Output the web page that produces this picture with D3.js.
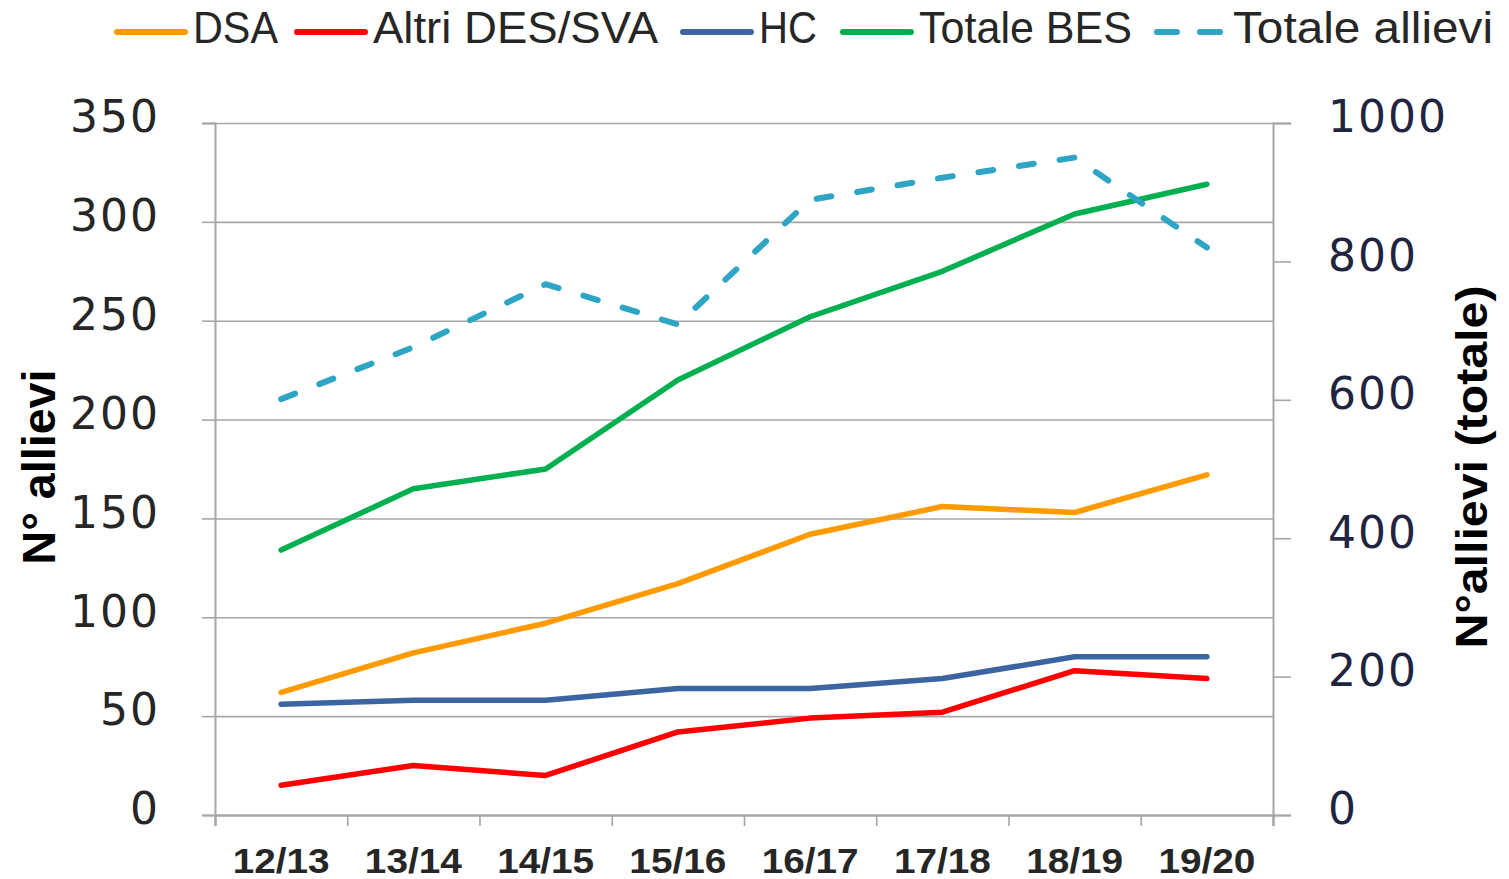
<!DOCTYPE html>
<html>
<head>
<meta charset="utf-8">
<script src="https://cdn.jsdelivr.net/npm/d3@7"></script>
<style>
  html, body { margin: 0; padding: 0; background: #fff; }
  svg { display: block; }
</style>
</head>
<body>
<div id="chart"></div>
<script>
// school years on the x axis
const years = ["12/13", "13/14", "14/15", "15/16", "16/17", "17/18", "18/19", "19/20"];

// left axis series (N° allievi)
const dsa   = [62, 82, 97, 117, 142, 156, 153, 172];
const altri = [15, 25, 20, 42, 49, 52, 73, 69];
const hc    = [56, 58, 58, 64, 64, 69, 80, 80];
const bes   = [134, 165, 175, 220, 252, 275, 304, 319];

// right axis series (totale)
const totAllievi = [601, 676, 767, 709, 889, 921, 950, 820];

const leftTicks  = [0, 50, 100, 150, 200, 250, 300, 350];
const rightTicks = [0, 200, 400, 600, 800, 1000];

const seriesNames = ["DSA", "Altri DES/SVA", "HC", "Totale BES", "Totale allievi"];

// layout: legend item line starts and text widths
const legendLineX = [117, 297, 683, 843, 1157];
const legendTextW = [85, 285, 58, 213, 260];

const W = 1509, H = 879;
const margin = {top: 123, right: 236, bottom: 64, left: 215};
const iw = W - margin.left - margin.right;
const ih = H - margin.top - margin.bottom;

const svg = d3.select("#chart").append("svg")
  .attr("width", W)
  .attr("height", H);

const g = svg.append("g").attr("transform", `translate(${margin.left},${margin.top})`);

const x = d3.scaleBand().domain(years).range([0, iw]);
const xTick = d3.scaleLinear().domain([0, years.length]).range([0, iw]);
const yL = d3.scaleLinear().domain([0, 350]).range([ih, 0]);
const yR = d3.scaleLinear().domain([0, 1000]).range([ih, 0]);

const gridCol = "#a6a6a6";

// gridlines
g.append("g")
  .call(d3.axisLeft(yL).tickValues(leftTicks.slice(1)).tickSize(-iw).tickFormat(""))
  .call(s => s.select(".domain").remove())
  .selectAll("line").attr("stroke", gridCol).attr("stroke-width", 1.6);

// left axis
const leftAx = g.append("g")
  .call(d3.axisLeft(yL).tickValues(leftTicks).tickSize(13).tickPadding(42).tickFormat(d3.format("d")));
leftAx.select(".domain").attr("stroke", gridCol).attr("stroke-width", 2);
leftAx.selectAll("line").attr("stroke", gridCol).attr("stroke-width", 1.6);
leftAx.selectAll("text")
  .attr("dy", "0.2em")
  .style("font-family", "'DejaVu Sans', Verdana, sans-serif")
  .style("font-size", "44px")
  .style("letter-spacing", "2px")
  .attr("fill", "#262626");

// right axis
const rightAx = g.append("g")
  .attr("transform", `translate(${iw},0)`)
  .call(d3.axisRight(yR).tickValues(rightTicks).tickSize(18).tickPadding(37).tickFormat(d3.format("d")));
rightAx.select(".domain").attr("stroke", gridCol).attr("stroke-width", 2);
rightAx.selectAll("line").attr("stroke", gridCol).attr("stroke-width", 1.6);
rightAx.selectAll("text")
  .attr("dy", "0.2em")
  .style("font-family", "'DejaVu Sans', Verdana, sans-serif")
  .style("font-size", "44px")
  .style("letter-spacing", "2px")
  .attr("fill", "#1f2540");

// bottom axis: tick marks between categories
const botAx = g.append("g")
  .attr("transform", `translate(0,${ih})`)
  .call(d3.axisBottom(xTick).tickValues(d3.range(years.length + 1)).tickSize(11).tickFormat(""));
botAx.select(".domain").attr("stroke", gridCol).attr("stroke-width", 2.4);
botAx.selectAll("line").attr("stroke", gridCol).attr("stroke-width", 1.6);

// bottom labels at band centres
const labAx = g.append("g")
  .attr("transform", `translate(0,${ih})`)
  .call(d3.axisBottom(x).tickSize(0).tickPadding(33));
labAx.select(".domain").remove();
labAx.selectAll("text")
  .attr("dy", "0.7em")
  .style("font-family", "'Liberation Sans', Arial, sans-serif")
  .style("font-weight", "bold")
  .style("font-size", "35px")
  .attr("textLength", 97)
  .attr("lengthAdjust", "spacingAndGlyphs")
  .attr("fill", "#262626");

// series
const colors = ["#ff9a00", "#ff0000", "#3c64a0", "#00b050", "#2fa5c5"];
const leftSeries = [dsa, altri, hc, bes];

const lineL = d3.line().x((d, i) => x(years[i]) + x.bandwidth() / 2).y(d => yL(d));
const lineR = d3.line().x((d, i) => x(years[i]) + x.bandwidth() / 2).y(d => yR(d));

leftSeries.forEach((s, k) => {
  g.append("path")
    .datum(s)
    .attr("d", lineL)
    .attr("fill", "none")
    .attr("stroke", colors[k])
    .attr("stroke-width", 5.5)
    .attr("stroke-linejoin", "round")
    .attr("stroke-linecap", "round");
});

g.append("path")
  .datum(totAllievi)
  .attr("d", lineR)
  .attr("fill", "none")
  .attr("stroke", colors[4])
  .attr("stroke-width", 6)
  .attr("stroke-dasharray", "15 26")
  .attr("stroke-linejoin", "round")
  .attr("stroke-linecap", "round");

// axis titles
svg.append("text")
  .attr("transform", `translate(55,${margin.top + ih / 2 - 2}) rotate(-90)`)
  .attr("text-anchor", "middle")
  .style("font-family", "'Liberation Sans', Arial, sans-serif")
  .style("font-weight", "bold")
  .style("font-size", "46px")
  .attr("textLength", 195)
  .attr("lengthAdjust", "spacingAndGlyphs")
  .attr("fill", "#000")
  .text("N° allievi");

svg.append("text")
  .attr("transform", `translate(1487,${margin.top + ih / 2 - 2}) rotate(-90)`)
  .attr("text-anchor", "middle")
  .style("font-family", "'Liberation Sans', Arial, sans-serif")
  .style("font-weight", "bold")
  .style("font-size", "44px")
  .attr("textLength", 363)
  .attr("lengthAdjust", "spacingAndGlyphs")
  .attr("fill", "#000")
  .text("N°allievi (totale)");

// legend
const leg = svg.append("g");
seriesNames.forEach((name, k) => {
  const lx = legendLineX[k];
  leg.append("line")
    .attr("x1", lx).attr("x2", lx + 68)
    .attr("y1", 32).attr("y2", 32)
    .attr("stroke", colors[k])
    .attr("stroke-width", 6)
    .attr("stroke-linecap", "round")
    .attr("stroke-dasharray", k === 4 ? "20 23" : null);
  leg.append("text")
    .attr("x", lx + 76)
    .attr("y", 43)
    .style("font-family", "'Liberation Sans', Arial, sans-serif")
    .style("font-size", "44px")
    .attr("textLength", legendTextW[k])
    .attr("lengthAdjust", "spacingAndGlyphs")
    .attr("fill", "#262626")
    .text(name);
});
</script>
</body>
</html>
